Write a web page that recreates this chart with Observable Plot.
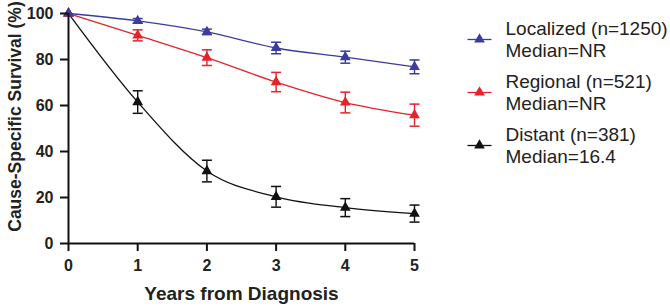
<!DOCTYPE html>
<html>
<head>
<meta charset="utf-8">
<script src="https://cdn.jsdelivr.net/npm/d3@7"></script>
<script src="https://cdn.jsdelivr.net/npm/@observablehq/plot@0.6"></script>
<style>
  html, body { margin: 0; padding: 0; background: #fff; }
  #chart { width: 670px; height: 306px; }
</style>
</head>
<body>
<div id="chart"></div>
<script>
// ---- Data ----
const years = [0, 1, 2, 3, 4, 5];
const xTicks = [0, 1, 2, 3, 4, 5];
const yTicks = [0, 20, 40, 60, 80, 100];

const seriesNames = ["Localized", "Regional", "Distant"];
const seriesN = [1250, 521, 381];
const seriesMedian = ["NR", "NR", "16.4"];
const seriesColors = ["#3b3c9c", "#e4232a", "#111111"];

const localized = [100, 96.8, 92.0, 85.0, 81.0, 76.8];
const localizedErr = [0, 1.0, 1.2, 2.5, 2.6, 3.0];
const regional = [100, 90.5, 80.8, 70.2, 61.3, 55.8];
const regionalErr = [0, 2.4, 3.4, 4.2, 4.5, 4.8];
const distant = [100, 61.5, 31.5, 20.3, 15.6, 13.0];
const distantErr = [0, 4.9, 4.7, 4.5, 3.9, 3.7];

const xLabel = "Years from Diagnosis";
const yLabel = "Cause-Specific Survival (%)";

// ---- Build tidy rows ----
const values = [localized, regional, distant];
const errs = [localizedErr, regionalErr, distantErr];
const rows = seriesNames.map((name, s) =>
  years.map((yr, i) => ({
    series: name,
    x: yr,
    y: values[s][i],
    lo: values[s][i] - errs[s][i],
    hi: values[s][i] + errs[s][i],
    err: errs[s][i]
  }))
);

const hline = (w) => ({
  draw(ctx) { ctx.moveTo(-w, 0); ctx.lineTo(w, 0); }
});

const font = "'Liberation Sans', Arial, Helvetica, sans-serif";
const marks = [];

// draw distant first, localized last (on top)
for (const s of [2, 1, 0]) {
  const data = rows[s];
  const color = seriesColors[s];
  const withErr = data.filter(d => d.err > 0);
  marks.push(Plot.line(data, {x: "x", y: "y", stroke: color, strokeWidth: 1.3, curve: "monotone-x"}));
  marks.push(Plot.ruleX(withErr, {x: "x", y1: "lo", y2: "hi", stroke: color, strokeWidth: 1.4}));
  marks.push(Plot.dot(withErr, {x: "x", y: "lo", symbol: hline(5), r: 3, fill: "none", stroke: color, strokeWidth: 1.5}));
  marks.push(Plot.dot(withErr, {x: "x", y: "hi", symbol: hline(5), r: 3, fill: "none", stroke: color, strokeWidth: 1.5}));
  marks.push(Plot.dot(data, {x: "x", y: "y", symbol: "triangle", r: 4, fill: color, stroke: "none"}));
}

// axes
marks.push(Plot.ruleX([0], {y1: 0, y2: 100, stroke: "#111", strokeWidth: 2}));
marks.push(Plot.ruleY([0], {x1: 0, x2: 5, stroke: "#111", strokeWidth: 2}));
marks.push(Plot.axisX(xTicks, {tickSize: 8, tickPadding: 8, strokeWidth: 2, stroke: "#111", fontSize: 16, fontWeight: "bold", fill: "#222", label: null}));
marks.push(Plot.axisY(yTicks, {tickSize: 8, tickPadding: 7, strokeWidth: 2, stroke: "#111", fontSize: 16, fontWeight: "bold", fill: "#222", label: null}));

// axis titles
marks.push(Plot.text([xLabel], {text: d => d, frameAnchor: "bottom", dy: 50, fontSize: 19, fontWeight: "bold", fill: "#222", textAnchor: "middle", lineAnchor: "middle"}));
marks.push(Plot.text([yLabel], {text: d => d, frameAnchor: "left", rotate: -90, dx: -53, dy: -12, fontSize: 17.5, fontWeight: "bold", fill: "#222", textAnchor: "middle", lineAnchor: "middle"}));

// legend
seriesNames.forEach((name, i) => {
  const dy = 26 + 53 * i;
  const color = seriesColors[i];
  marks.push(Plot.dot([0], {frameAnchor: "top-right", dx: 65, dy, symbol: hline(12), r: 3, fill: "none", stroke: color, strokeWidth: 1.3}));
  marks.push(Plot.dot([0], {frameAnchor: "top-right", dx: 65, dy, symbol: "triangle", r: 4, fill: color, stroke: "none"}));
  marks.push(Plot.text([`${name} (n=${seriesN[i]})`], {
    text: d => d, frameAnchor: "top-right", dx: 91, dy: dy - 11, textAnchor: "start", lineAnchor: "middle",
    fontSize: 19, fontWeight: "normal", fill: "#222"
  }));
  marks.push(Plot.text([`Median=${seriesMedian[i]}`], {
    text: d => d, frameAnchor: "top-right", dx: 91, dy: dy + 11, textAnchor: "start", lineAnchor: "middle",
    fontSize: 19, fontWeight: "normal", fill: "#222"
  }));
});

const chart = Plot.plot({
  width: 670,
  height: 306,
  marginLeft: 68,
  marginRight: 256,
  marginTop: 13,
  marginBottom: 63,
  x: {domain: [0, 5]},
  y: {domain: [0, 100]},
  style: {fontFamily: font, background: "#fff", overflow: "visible"},
  marks
});
document.getElementById("chart").append(chart);
</script>
</body>
</html>
